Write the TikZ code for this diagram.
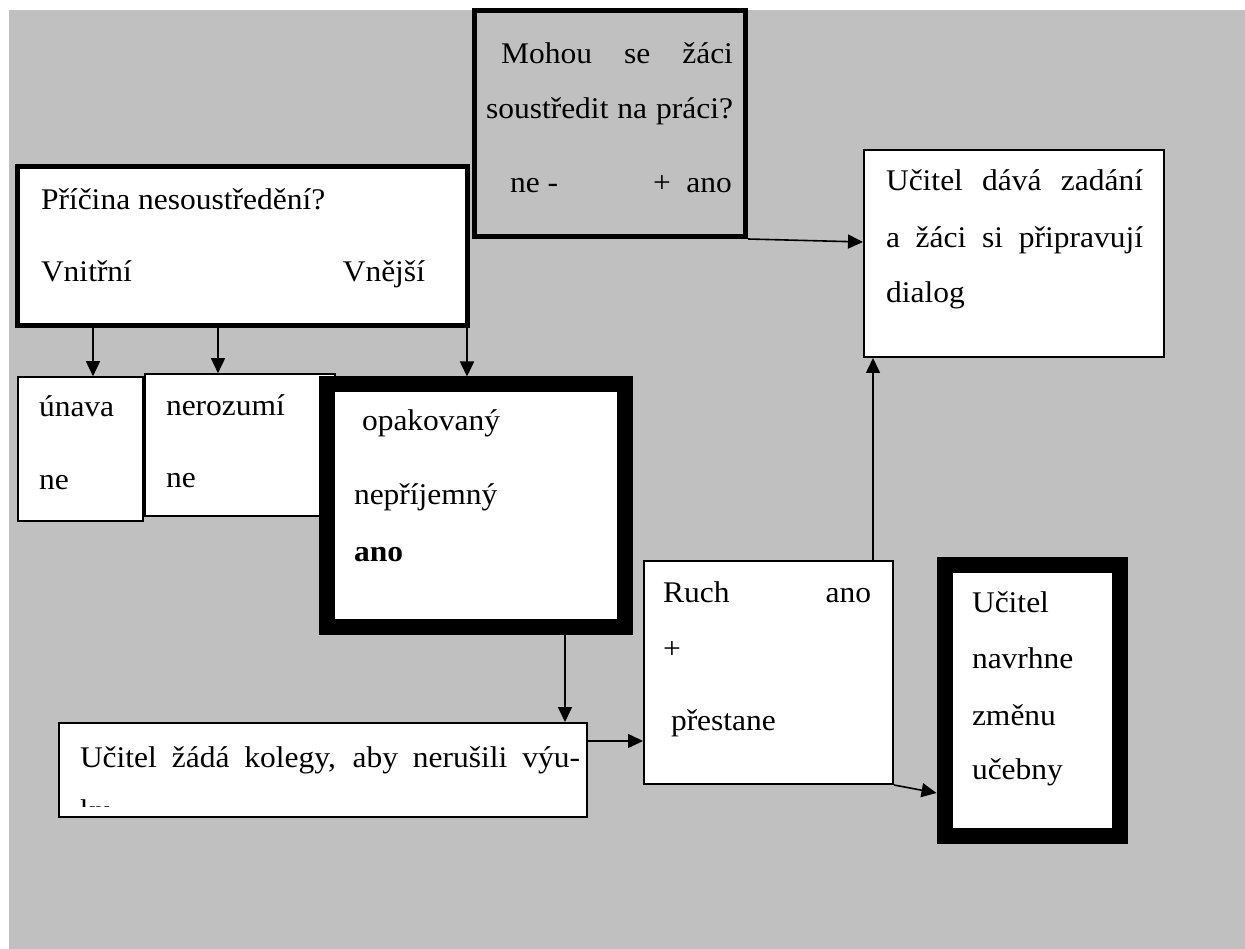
\documentclass[tikz,border=0pt]{standalone}
\usepackage{fontspec}
\setmainfont{Liberation Serif}[FakeStretch=1.05]
\usetikzlibrary{arrows.meta}
\definecolor{bggray}{HTML}{C0C0C0}
\tikzset{
  box/.style={draw=black, fill=white, inner sep=0pt, anchor=center},
  thinbox/.style={box, line width=1.6pt},
  midbox/.style={box, line width=2pt},
  heavybox/.style={box, line width=5pt},
  fatbox/.style={box, line width=16pt},
  txt/.style={anchor=base west, inner sep=0pt, outer sep=0pt, font=\fontsize{30}{36}\selectfont},
  txte/.style={txt, anchor=base east},
  arr/.style={draw=black, line width=1.6pt, -{Triangle[length=15pt,width=14pt]}}
}
\begin{document}
\begin{tikzpicture}[x=1pt,y=-1pt]
\useasboundingbox (0,0) rectangle (1245,949);
\fill[bggray] (9,10) rectangle (1245,949);
% helper coordinates
\coordinate (c93) at (93,0);
\coordinate (c218) at (218,0);
\coordinate (c467) at (467,0);
\coordinate (c565) at (565,0);
\coordinate (c873) at (873,0);
\coordinate (c741) at (0,741);
\coordinate (c793) at (0,793);
\coordinate (c242) at (0,242);
\coordinate (c806) at (0,806);
% boxes
\node[heavybox, minimum width=450pt, minimum height=159pt] (pricina) at (242.5,246) {};
\node[heavybox, fill=bggray, minimum width=271pt, minimum height=226pt] (mohou) at (610,123.5) {};
\node[thinbox, minimum width=125pt, minimum height=144pt] (unava) at (80.5,449) {};
\node[thinbox, minimum width=190pt, minimum height=142pt] (nerozumi) at (240,445) {};
\node[fatbox, minimum width=298pt, minimum height=242.5pt] (opak) at (476,505.75) {};
\node[midbox, minimum width=528pt, minimum height=94pt] (zada) at (323,770) {};
\node[midbox, minimum width=249pt, minimum height=223pt] (ruch) at (768.5,672.5) {};
\node[fatbox, minimum width=175.5pt, minimum height=271pt] (navrhne) at (1032.25,700.5) {};
\node[midbox, minimum width=300pt, minimum height=207pt] (dava) at (1014,253.5) {};
% texts
\node[txt] (t1) at (501,64) {\makebox[232pt][s]{Mohou se žáci}};
\node[txt] (t2) at (486,119) {\makebox[247pt][s]{soustředit na práci?}};
\node[txt] (t3) at (510,193) {ne -};
\node[txte] (t4) at (732,193) {+\ \ ano};
\node[txt] (t5) at (41,210) {Příčina nesoustředění?};
\node[txt] (t6) at (41,282) {Vnitřní};
\node[txte] (t7) at (425,282) {Vnější};
\node[txt] (t8) at (39,417) {únava};
\node[txt] (t9) at (39,489) {ne};
\node[txt] (t10) at (166,415) {nerozumí};
\node[txt] (t11) at (166,487) {ne};
\node[txt] (t12) at (362,430) {opakovaný};
\node[txt] (t13) at (354,504) {nepříjemný};
\node[txt] (t14) at (354,561) {\bfseries ano};
\node[txt] (t15) at (80,767) {\makebox[500pt][s]{Učitel žádá kolegy, aby nerušili výu-}};
\begin{scope}
\clip (zada.north west) rectangle (zada.east |- c806);
\node[txt] (t16) at (80,820) {ku};
\end{scope}
\node[txt] (t17) at (663,602) {Ruch};
\node[txte] (t18) at (871,602) {ano};
\node[txt] (t19) at (663,658) {+};
\node[txt] (t20) at (671,730) {přestane};
\node[txt] (t21) at (972,612) {Učitel};
\node[txt] (t22) at (972,668) {navrhne};
\node[txt] (t23) at (972,725) {změnu};
\node[txt] (t24) at (972,779) {učebny};
\node[txt] (t25) at (886,191) {\makebox[257pt][s]{Učitel dává zadání}};
\node[txt] (t26) at (886,248) {\makebox[257pt][s]{a žáci si připravují}};
\node[txt] (t27) at (886,303) {dialog};
% connectors
\draw[arr] (pricina.south -| c93) -- (unava.north -| c93);
\draw[arr] (pricina.south -| c218) -- (nerozumi.north -| c218);
\draw[arr] (pricina.south -| c467) -- (opak.north -| c467);
\draw[arr] (opak.south -| c565) -- (zada.north -| c565);
\draw[arr] (zada.east |- c741) -- (ruch.west |- c741);
\draw[arr] (ruch.north -| c873) -- (dava.south -| c873);
\draw[arr] (ruch.south east) -- (navrhne.west |- c793);
\draw[arr] (mohou.south east) -- (dava.west |- c242);
\end{tikzpicture}
\end{document}
